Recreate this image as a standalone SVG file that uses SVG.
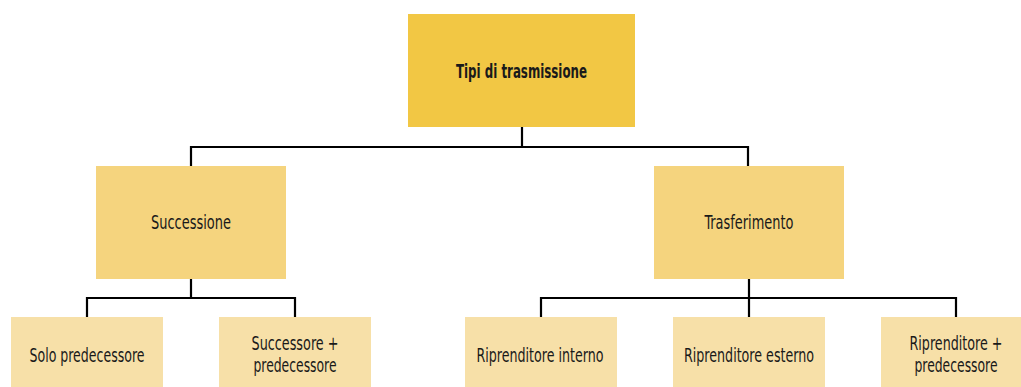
<svg xmlns="http://www.w3.org/2000/svg" width="1021" height="387" viewBox="0 0 1021 387">
<style>
.t{font-family:"Liberation Sans Narrow","DejaVu Sans Condensed","Liberation Sans",sans-serif;font-size:19px;fill:#1a1a1a;text-anchor:middle}
.b{font-weight:bold}
.c{fill:none;stroke:#000;stroke-width:2.2}
.l0{fill:#F2C744}.l1{fill:#F5D47E}.l2{fill:#F7E0A8}
</style>
<rect width="1021" height="387" fill="#fff"/>
<g id="connectors">
<path class="c" d="M522 127V147M191 147H748M191 146V166M748 146V166"/>
<path class="c" d="M191 279V298M87 298H295M87 297V317M295 297V317"/>
<path class="c" d="M749 279V317M541 298H956M541 297V317M956 297V317"/>
</g>
<g id="n-root"><rect class="l0" x="408" y="14" width="227" height="113"/><text class="t b" x="521.5" y="78" textLength="131" lengthAdjust="spacingAndGlyphs">Tipi di trasmissione</text></g>
<g id="n-succ"><rect class="l1" x="96" y="166" width="190" height="113"/><text class="t" x="191" y="229" textLength="80" lengthAdjust="spacingAndGlyphs">Successione</text></g>
<g id="n-trasf"><rect class="l1" x="654" y="166" width="190" height="113"/><text class="t" x="749" y="229" textLength="89" lengthAdjust="spacingAndGlyphs">Trasferimento</text></g>
<g id="n-solo"><rect class="l2" x="11" y="317" width="152" height="70"/><text class="t" x="87" y="362" textLength="115" lengthAdjust="spacingAndGlyphs">Solo predecessore</text></g>
<g id="n-succpred"><rect class="l2" x="219" y="317" width="152" height="70"/><text class="t" x="295" y="350" textLength="87" lengthAdjust="spacingAndGlyphs">Successore +</text><text class="t" x="295" y="372" textLength="83" lengthAdjust="spacingAndGlyphs">predecessore</text></g>
<g id="n-int"><rect class="l2" x="465" y="317" width="152" height="70"/><text class="t" x="540" y="362" textLength="127" lengthAdjust="spacingAndGlyphs">Riprenditore interno</text></g>
<g id="n-est"><rect class="l2" x="673" y="317" width="152" height="70"/><text class="t" x="749" y="362" textLength="130" lengthAdjust="spacingAndGlyphs">Riprenditore esterno</text></g>
<g id="n-rippred"><rect class="l2" x="881" y="317" width="140" height="70"/><text class="t" x="956" y="350" textLength="93" lengthAdjust="spacingAndGlyphs">Riprenditore +</text><text class="t" x="956" y="372" textLength="83" lengthAdjust="spacingAndGlyphs">predecessore</text></g>
</svg>
